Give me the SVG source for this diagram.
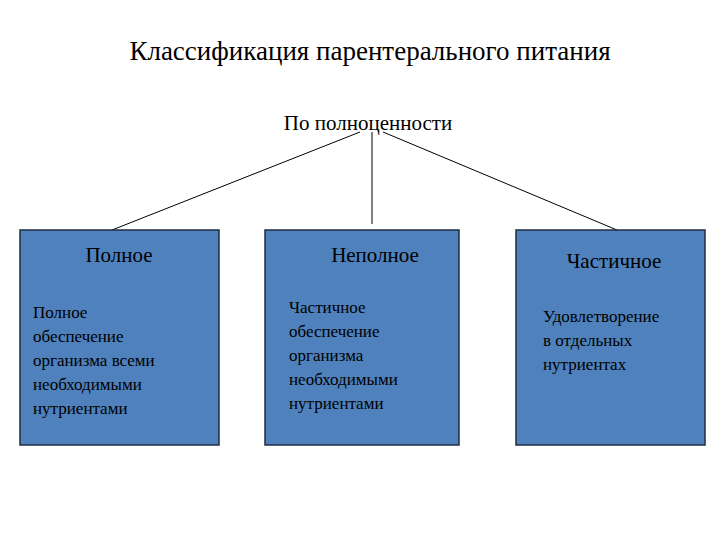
<svg xmlns="http://www.w3.org/2000/svg" width="720" height="540" viewBox="0 0 720 540">
<style>
text{font-family:"Liberation Serif",serif;fill:#000}
.box{fill:#4f81bd;stroke:#1f2d44;stroke-width:1.5}
.h{font-size:21px;text-anchor:middle}
.b{font-size:17px}
.c{stroke:#000;stroke-width:1;fill:none}
</style>
<rect width="720" height="540" fill="#fff"/>
<text x="370" y="60" font-size="27" text-anchor="middle">Классификация парентерального питания</text>
<g id="root"><text x="368" y="130" font-size="21" text-anchor="middle">По полноценности</text></g>
<g id="connectors">
<line class="c" x1="360" y1="132" x2="112" y2="230"/>
<line class="c" x1="372" y1="132" x2="372" y2="224"/>
<line class="c" x1="383" y1="132" x2="617" y2="230"/>
</g>
<g id="n1"><rect class="box" x="20" y="230" width="199" height="215"/>
<text class="h" x="119" y="262">Полное</text>
<text class="b" x="33" y="318">Полное</text><text class="b" x="33" y="342">обеспечение</text><text class="b" x="33" y="366">организма всеми</text><text class="b" x="33" y="390">необходимыми</text><text class="b" x="33" y="414">нутриентами</text></g>
<g id="n2"><rect class="box" x="265" y="230" width="194" height="215"/>
<text class="h" x="375" y="262">Неполное</text>
<text class="b" x="289" y="313">Частичное</text><text class="b" x="289" y="337">обеспечение</text><text class="b" x="289" y="361">организма</text><text class="b" x="289" y="385">необходимыми</text><text class="b" x="289" y="409">нутриентами</text></g>
<g id="n3"><rect class="box" x="516" y="230" width="189" height="215"/>
<text class="h" x="614" y="268">Частичное</text>
<text class="b" x="543" y="322">Удовлетворение</text><text class="b" x="543" y="346">в отдельных</text><text class="b" x="543" y="370">нутриентах</text></g>
</svg>
